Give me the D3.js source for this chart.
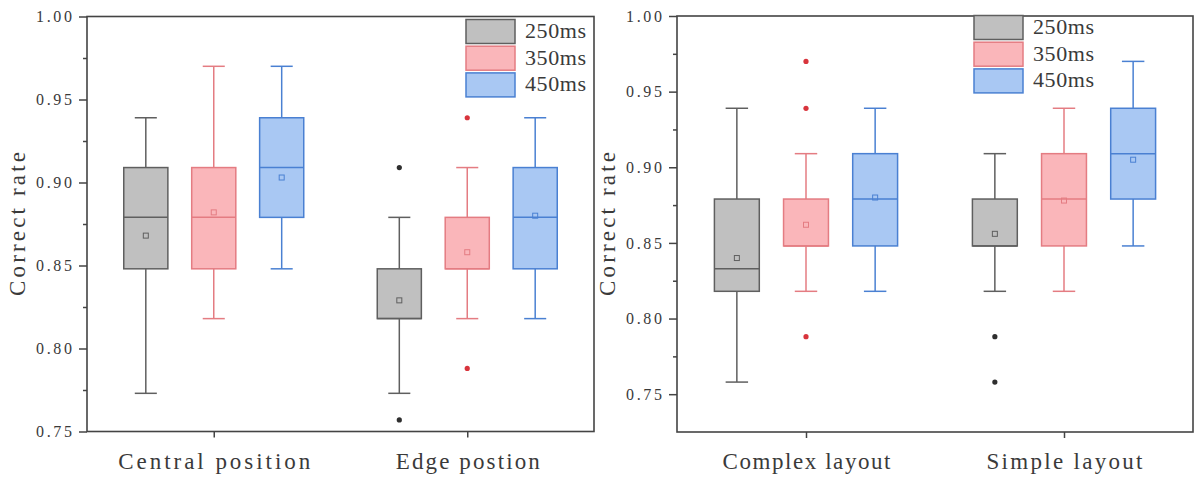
<!DOCTYPE html>
<html>
<head>
<meta charset="utf-8"/>
<title>Correct rate box plots</title>
<script src="https://d3js.org/d3.v7.min.js"></script>
<style>
  body { margin: 0; background: #fff; }
  text { font-family: "Liberation Serif", "DejaVu Serif", serif; fill: #3a3a3a; }
</style>
</head>
<body>
<div id="output"></div>
<script>
// series (legend) and categories
var series = ["250ms", "350ms", "450ms"];
var groupsLeft = ["Central position", "Edge postion"];
var groupsRight = ["Complex layout", "Simple layout"];
var majorTicks = [0.75, 0.80, 0.85, 0.90, 0.95, 1.00];
var minorTicks = [0.775, 0.825, 0.875, 0.925, 0.975];

// box statistics, [group][series]
var lowLeft    = [[0.773, 0.818, 0.848], [0.773, 0.818, 0.818]];
var q1Left     = [[0.848, 0.848, 0.879], [0.818, 0.848, 0.848]];
var medLeft    = [[0.879, 0.879, 0.909], [0.818, 0.848, 0.879]];
var q3Left     = [[0.909, 0.909, 0.939], [0.848, 0.879, 0.909]];
var highLeft   = [[0.939, 0.970, 0.970], [0.879, 0.909, 0.939]];
var meanLeft   = [[0.868, 0.882, 0.903], [0.829, 0.858, 0.880]];
var outLeft    = [[[], [], []], [[0.909, 0.757], [0.939, 0.788], []]];

var lowRight   = [[0.758, 0.818, 0.818], [0.818, 0.818, 0.848]];
var q1Right    = [[0.818, 0.848, 0.848], [0.848, 0.848, 0.879]];
var medRight   = [[0.833, 0.848, 0.879], [0.848, 0.879, 0.909]];
var q3Right    = [[0.879, 0.879, 0.909], [0.879, 0.909, 0.939]];
var highRight  = [[0.939, 0.909, 0.939], [0.909, 0.939, 0.970]];
var meanRight  = [[0.840, 0.862, 0.880], [0.856, 0.878, 0.905]];
var outRight   = [[[], [0.970, 0.939, 0.788], []], [[0.788, 0.758], [], []]];

var fills   = ["#c0c0c0", "#fab6ba", "#a9c8f3"];
var strokes = ["#5f5f5f", "#e47c82", "#4a80d2"];
var dots    = ["#2e2e2e", "#d8343c", "#4a80d2"];

var svg = d3.select("#output").append("svg")
    .attr("width", 1197)
    .attr("height", 480);

// mimic the half-width (fixed pitch) latin glyphs of the original font
function fixedPitch(sel, charW) {
    sel.attr("textLength", function() { return this.textContent.length * charW; })
       .attr("lengthAdjust", "spacing");
}

function buildStats(groups, low, q1, med, q3, high, mean, out) {
    var rows = [];
    groups.forEach(function(g, i) {
        series.forEach(function(s, j) {
            rows.push({group: g, series: s, si: j,
                low: low[i][j], q1: q1[i][j], med: med[i][j], q3: q3[i][j],
                high: high[i][j], mean: mean[i][j], out: out[i][j]});
        });
    });
    return rows;
}

function drawPanel(cfg) {
    var w = cfg.x1 - cfg.x0, h = cfg.y1 - cfg.y0;
    var g = svg.append("g").attr("transform", "translate(" + cfg.x0 + "," + cfg.y0 + ")");

    var y = d3.scaleLinear().domain(cfg.domain).range([h, 0]);
    var x = d3.scalePoint().domain(cfg.groups).range([0, w]).padding(0.5);
    var off = d3.scalePoint().domain(series).range([-0.134 * w, 0.134 * w]);
    var bw = 0.087 * w;

    // minor ticks
    g.append("g")
        .call(d3.axisLeft(y).tickValues(minorTicks).tickSize(4).tickFormat(""))
        .call(function(a) { a.select(".domain").remove(); a.selectAll("line").attr("stroke", "#444").attr("stroke-width", 1.5); });

    // y axis
    var ya = g.append("g")
        .call(d3.axisLeft(y).tickValues(majorTicks).tickSize(8).tickSizeOuter(0)
            .tickPadding(7).tickFormat(d3.format(".2f")));
    ya.select(".domain").remove();
    ya.selectAll("line").attr("stroke", "#444").attr("stroke-width", 1.5);
    ya.selectAll("text").style("font-size", "16px").attr("fill", "#3a3a3a").call(fixedPitch, 9);

    // x axis
    var xa = g.append("g")
        .attr("transform", "translate(0," + h + ")")
        .call(d3.axisBottom(x).tickSize(6).tickSizeOuter(0).tickPadding(15));
    xa.select(".domain").remove();
    xa.selectAll("line").attr("stroke", "#444").attr("stroke-width", 1.5);
    xa.selectAll("text").style("font-size", "23px").attr("fill", "#3a3a3a").call(fixedPitch, 12);

    // frame
    g.append("rect")
        .attr("width", w).attr("height", h)
        .attr("fill", "none").attr("stroke", "#444").attr("stroke-width", 1.6);

    // y label
    g.append("text")
        .attr("transform", "translate(-67," + (h / 2) + ") rotate(-90)")
        .attr("text-anchor", "middle")
        .attr("dominant-baseline", "middle")
        .style("font-size", "23px")
        .text("Correct rate")
        .call(fixedPitch, 12);

    var boxes = g.selectAll(".box").data(cfg.stats).enter().append("g")
        .attr("class", "box")
        .attr("transform", function(d) { return "translate(" + (x(d.group) + off(d.series)) + ",0)"; });

    // whiskers
    boxes.append("line")
        .attr("y1", function(d) { return y(d.low); })
        .attr("y2", function(d) { return y(d.high); })
        .attr("stroke", function(d) { return strokes[d.si]; }).attr("stroke-width", 1.5);
    boxes.selectAll(".cap").data(function(d) { return [d, d].map(function(e, k) { return {v: k ? e.high : e.low, si: e.si}; }); })
        .enter().append("line")
        .attr("x1", -bw / 4).attr("x2", bw / 4)
        .attr("y1", function(d) { return y(d.v); })
        .attr("y2", function(d) { return y(d.v); })
        .attr("stroke", function(d) { return strokes[d.si]; }).attr("stroke-width", 1.5);

    // boxes
    boxes.append("rect")
        .attr("x", -bw / 2).attr("width", bw)
        .attr("y", function(d) { return y(d.q3); })
        .attr("height", function(d) { return y(d.q1) - y(d.q3); })
        .attr("fill", function(d) { return fills[d.si]; })
        .attr("stroke", function(d) { return strokes[d.si]; }).attr("stroke-width", 1.5);

    // median
    boxes.append("line")
        .attr("x1", -bw / 2).attr("x2", bw / 2)
        .attr("y1", function(d) { return y(d.med); })
        .attr("y2", function(d) { return y(d.med); })
        .attr("stroke", function(d) { return strokes[d.si]; }).attr("stroke-width", 1.5);

    // mean
    boxes.append("rect")
        .attr("x", -2.5).attr("width", 5).attr("height", 5)
        .attr("y", function(d) { return y(d.mean) - 2.5; })
        .attr("fill", "none")
        .attr("stroke", function(d) { return strokes[d.si]; }).attr("stroke-width", 1);

    // outliers
    boxes.selectAll(".out").data(function(d) { return d.out.map(function(v) { return {v: v, si: d.si}; }); })
        .enter().append("circle")
        .attr("r", 2.6)
        .attr("cy", function(d) { return y(d.v); })
        .attr("fill", function(d) { return dots[d.si]; });

    // legend
    var lg = g.selectAll(".leg").data(series).enter().append("g")
        .attr("transform", function(d, i) { return "translate(" + (w - cfg.legX) + "," + (cfg.legY + i * 26.7) + ")"; });
    lg.append("rect")
        .attr("width", 49).attr("height", 24)
        .attr("fill", function(d, i) { return fills[i]; })
        .attr("stroke", function(d, i) { return strokes[i]; }).attr("stroke-width", 1.5);
    lg.append("text")
        .attr("x", 59).attr("y", 13.5)
        .attr("dominant-baseline", "middle")
        .style("font-size", "22px")
        .text(function(d) { return d; })
        .call(fixedPitch, 12.2);
}

drawPanel({x0: 87, x1: 594, y0: 16.5, y1: 431.5, domain: [0.75, 1.0], groups: groupsLeft,
    stats: buildStats(groupsLeft, lowLeft, q1Left, medLeft, q3Left, highLeft, meanLeft, outLeft),
    legX: 128, legY: 3});
drawPanel({x0: 677, x1: 1193, y0: 16, y1: 432, domain: [0.725, 1.0], groups: groupsRight,
    stats: buildStats(groupsRight, lowRight, q1Right, medRight, q3Right, highRight, meanRight, outRight),
    legX: 219, legY: -0.5});
</script>
</body>
</html>
